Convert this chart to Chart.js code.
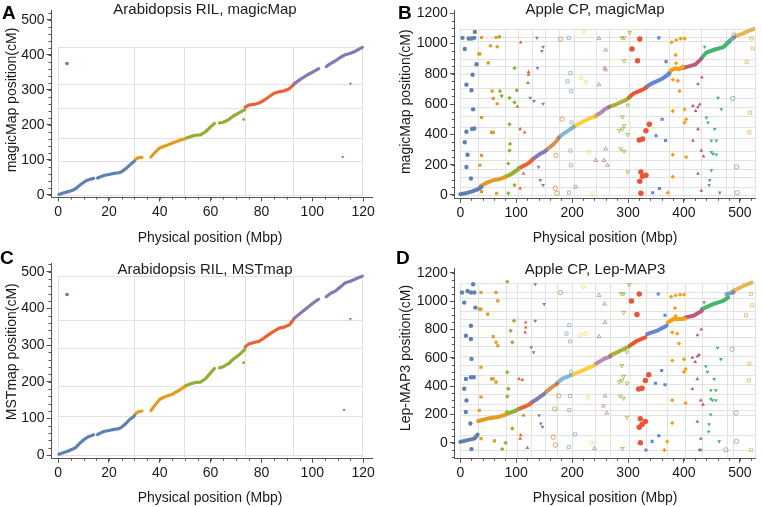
<!DOCTYPE html>
<html><head><meta charset="utf-8">
<script src="https://cdn.jsdelivr.net/npm/chart.js@4.4.1/dist/chart.umd.min.js"></script>
<style>
html,body{margin:0;padding:0;background:#fff;}
#wrap{position:relative;width:762px;height:507px;overflow:hidden;background:#fff;}
canvas{position:absolute;}
</style></head><body>
<div id="wrap">
<canvas id="cA" width="381" height="250" style="left:0;top:0"></canvas>
<canvas id="cB" width="381" height="250" style="left:381px;top:0"></canvas>
<canvas id="cC" width="381" height="257" style="left:0;top:250px"></canvas>
<canvas id="cD" width="381" height="257" style="left:381px;top:250px"></canvas>
</div>
<script>
// ---------- shared style ----------
const COLORS = ['#5E81B5','#E19C24','#8FB032','#EB6235','#8778B3','#C56E1A','#5D9EC7','#FFBF00','#A5609D','#929600','#E95536','#6685D9','#F89F13','#BC5B80','#47B66D','#5E81B5','#E19C24'];
const MARKERS = ['circle','rect','rectRot','triangle','triangleDown','circle','rect','rectRot','triangle','triangleDown','circle','rect','rectRot','triangle','triangleDown','circle','rect'];
const OPEN = [0,0,0,0,0,1,1,1,1,1,0,0,0,0,0,1,1];

// ---------- Panel A: Arabidopsis RIL, magicMap ----------
const A_X_TICKS = [0,20,40,60,80,100,120];
const A_Y_TICKS = [0,100,200,300,400,500];
const A_X_BOUNDS = [0,30.0,49.7,73.5,92.6,119.7];
const A_Y_BOUNDS = [0,96.5,162,246.7,315,420.8];
const A_DIAG = [
  [[[0.3,1],[2,5],[4,9],[6,14],[7,18],[8,24],[9,30],[10,35],[11,40],[12,43],[14,47]],[[15.5,48],[17,52],[18,55],[20,58],[22,61],[24,63],[25,66],[26,71],[27,77],[28,84],[29,90],[30,96]]],
  [[[30.3,100],[31.5,106],[33,107]],[[36.5,108],[38,120],[40,134],[42,139],[45,148],[48,156],[50,160]]],
  [[[50,161],[52,166],[54,170],[56,171],[58,180],[60,194],[61.5,204]],[[63.5,205],[65,207],[67,214],[69,225],[71,233],[73.5,243]]],
  [[[73.6,250],[75,256],[77,258],[79,262],[81,270],[83,280],[85,290],[87,294],[89,297],[91,303],[92.5,313]]],
  [[[92.7,316],[95,328],[98,342],[101,354],[102.5,360]],[[105.5,366],[107,374],[109,382],[111,392],[113,400],[115,404],[117,410],[119.7,421]]]
];
const A_OUT = [[[3.5,375]],[],[[73,215]],[],[[112,108],[115,317]]];

// ---------- Panel C: Arabidopsis RIL, MSTmap ----------
const C_X_TICKS = [0,20,40,60,80,100,120];
const C_Y_TICKS = [0,100,200,300,400,500];
const C_X_BOUNDS = [0,30.0,49.7,73.5,92.6,119.7];
const C_Y_BOUNDS = [0,107,188,291,368,488];
const C_DIAG = [
  [[[0.3,2],[2,6],[4,11],[6,17],[7,21],[8,28],[9,35],[10,41],[11,46],[12,50],[14,55]],[[15.5,56],[17,61],[18,64],[20,67],[22,70],[24,72],[25,76],[26,82],[27,88],[28,96],[29,101],[30,107]]],
  [[[30.3,111],[31.5,118],[33,120]],[[36.5,121],[38,135],[40,152],[42,159],[45,166],[48,178],[50,187]]],
  [[[50,188],[52,194],[54,198],[56,199],[58,208],[60,224],[61.5,236]],[[63.5,238],[65,241],[67,249],[69,262],[71,272],[73.5,288]]],
  [[[73.6,295],[75,303],[77,307],[79,310],[81,319],[83,329],[85,338],[87,346],[89,349],[91,355],[92.5,368]]],
  [[[92.7,372],[95,385],[98,402],[101,418],[102.5,425]],[[105.5,432],[107,440],[109,447],[111,458],[113,470],[115,474],[117,480],[119.7,488]]]
];
const C_OUT = [[[3.5,438]],[],[[73,252]],[],[[112.5,123],[115,371]]];

// ---------- Panel B: Apple CP, magicMap ----------
const B_X_TICKS = [0,100,200,300,400,500];
const B_Y_TICKS = [0,200,400,600,800,1000,1200];
const B_X_BOUNDS = [0,32,80,104,128,152,176,203,242,266,302,332,374,398,431,476,490,527];
const B_Y_BOUNDS = [0,54,118,174,228,293,378,450,518,580,641,706,800,848,898,1015,1043,1098];
const B_DIAG = [
  [[[0,5],[10,12],[20,22],[30,35],[38,52]]],
  [[[36,58],[50,85],[60,98],[70,104],[80,118]]],
  [[[80,120],[90,135],[100,160],[104,172]]],
  [[[104,175],[115,195],[122,210],[128,228]]],
  [[[128,232],[140,265],[150,285],[153,293]]],
  [[[155,300],[165,330],[172,355],[176,375]]],
  [[[176,380],[185,405],[195,430],[203,448]]],
  [[[203,452],[215,475],[230,505],[242,518]]],
  [[[242,522],[252,545],[260,570],[266,580]]],
  [[[266,582],[280,600],[295,625],[302,641]]],
  [[[302,645],[310,670],[320,685],[332,706]]],
  [[[332,712],[345,740],[360,765],[374,800]]],
  [[[372,802],[378,825],[385,835],[392,830],[398,846]]],
  [[[398,838],[410,850],[420,860],[431,898]]],
  [[[431,902],[440,940],[455,960],[470,975],[482,1015]]],
  [[[476,1000],[482,1020],[490,1040]]],
  [[[490,1045],[505,1065],[520,1090],[527,1098]]]
];
const B_OUT = [
  [[4,1037],[8,963],[15,1033],[20,1033],[25,1037],[26,1076],[29,863],[22,793],[11,728],[20,691],[23,565],[21,435],[25,439],[11,417],[8,348],[13,265],[11,185],[19,109]],
  [[38,1039],[54,985],[64,1039],[66,978],[33,931],[35,931],[50,872],[57,685],[59,637],[66,602],[38,511],[56,413],[59,413],[38,261],[35,196],[65,11],[38,22]],
  [[70,1044],[71,685],[74,654],[88,641],[97,837],[101,691],[97,611],[88,467],[89,337],[88,293],[86,207],[97,65],[86,11]],
  [[108,1006],[122,811],[122,794],[121,739],[102,582],[107,435],[115,413],[113,141],[107,43]],
  [[137,1037],[148,978],[146,950],[138,837],[125,641],[132,620],[148,602],[140,185],[143,98],[148,65]],
  [[179,1028],[182,500],[171,261],[173,11],[170,43]],
  [[197,804],[192,750],[198,685],[199,478],[197,293],[198,196],[194,15],[206,54],[194,1037]],
  [[221,1076],[216,772],[225,743],[230,283],[236,11]],
  [[248,1033],[260,957],[260,826],[248,728],[257,228],[260,304],[263,196],[242,228],[258,837]],
  [[289,1037],[293,1037],[303,1072],[293,885],[299,593],[290,515],[284,424],[290,435],[293,457],[299,398],[287,304],[293,289],[299,152]],
  [[307,963],[317,885],[326,370],[320,363],[332,424],[338,467],[323,152],[326,124],[332,130],[321,91],[323,11],[321,1029]],
  [[355,1037],[368,880],[361,500],[367,359],[350,391],[356,43],[344,15]],
  [[378,1007],[386,1022],[394,1033],[401,1033],[385,924],[386,870],[380,761],[389,754],[392,685],[380,554],[401,565],[404,500],[401,478],[380,265],[404,250],[380,120],[371,15]],
  [[416,587],[421,554],[425,580],[428,598],[425,435],[416,359],[431,293],[435,254],[425,141],[431,28],[432,776],[425,733]],
  [[437,978],[461,641],[467,565],[440,511],[443,478],[449,359],[458,359],[455,435],[449,283],[452,272],[458,267],[449,163],[446,98],[445,65],[464,15]],
  [[487,637],[494,185],[495,15],[489,1054]],
  [[521,1033],[523,967],[512,876],[518,543],[517,413]]
];

// ---------- Panel D: Apple CP, Lep-MAP3 ----------
const D_X_TICKS = [0,100,200,300,400,500];
const D_Y_TICKS = [0,200,400,600,800,1000,1200];
const D_X_BOUNDS = [0,32,81,102,126,152,173,199,241,268,302,332,370,402,432,477,488,527];
const D_Y_BOUNDS = [-50,58,199,234,276,346,416,478,550,610,680,744,826,876,931,1025,1062,1130];
const D_DIAG = [
  [[[0,7],[13,19],[25,30],[31,58]]],
  [[[32,154],[49,171],[67,182],[81,199]]],
  [[[84,206],[96,222],[102,234]]],
  [[[103,236],[114,253],[126,276]]],
  [[[126,281],[138,311],[150,346]]],
  [[[153,358],[164,393],[173,416]]],
  [[[173,421],[182,451],[197,475]]],
  [[[200,480],[221,515],[239,545]]],
  [[[242,557],[257,592],[268,608]]],
  [[[268,615],[286,650],[301,678]]],
  [[[303,685],[316,720],[331,744]]],
  [[[334,767],[352,791],[369,826]]],
  [[[371,849],[381,873],[393,873],[402,876]]],
  [[[402,884],[417,896],[432,931]]],
  [[[432,943],[452,978],[470,1001],[479,1025]]],
  [[[476,1048],[488,1060]]],
  [[[488,1071],[506,1106],[521,1130]]]
];
const D_OUT = [
  [[3,1060],[7,989],[13,1071],[19,1060],[25,1060],[23,1118],[27,954],[19,826],[10,756],[19,732],[20,592],[19,463],[24,463],[10,451],[7,381],[11,299],[10,218],[18,136],[20,-44]],
  [[37,1060],[34,943],[37,943],[49,908],[64,1060],[67,1001],[59,749],[64,709],[67,685],[37,533],[37,323],[34,229],[37,30],[61,14],[56,451],[59,451],[64,428]],
  [[84,1137],[96,861],[90,791],[93,709],[84,498],[86,381],[84,327],[83,218],[93,101],[81,0],[75,-44]],
  [[105,451],[111,444],[117,849],[117,814],[116,779],[108,54],[107,30],[120,-35],[113,194]],
  [[134,1118],[150,978],[134,861],[127,674],[131,639],[141,194],[144,136],[147,112]],
  [[179,1060],[170,-16],[176,332],[169,240],[166,40]],
  [[195,830],[190,770],[196,715],[198,500],[196,330],[195,230],[194,-30],[205,60]],
  [[220,1100],[215,760],[224,770],[229,320],[235,0]],
  [[248,1040],[258,980],[259,850],[248,750],[256,260],[259,330],[262,210],[240,-40]],
  [[288,1050],[292,1050],[302,1115],[292,920],[298,640],[289,545],[284,430],[289,440],[292,470],[298,420],[286,330],[292,315],[298,180],[290,-40]],
  [[306,1000],[316,905],[325,385],[319,380],[331,440],[337,480],[322,170],[325,130],[331,150],[320,110],[322,0],[320,1050]],
  [[354,1050],[366,900],[360,510],[366,410],[349,420],[355,50],[343,10],[332,-50]],
  [[377,1030],[385,1040],[393,1045],[400,1045],[384,950],[385,895],[379,780],[388,770],[391,700],[379,580],[400,590],[403,520],[400,500],[379,300],[403,280],[379,140],[370,10],[365,-50]],
  [[415,600],[420,570],[424,610],[427,620],[424,450],[415,380],[430,300],[434,270],[424,150],[430,30],[431,800],[424,760],[428,-50]],
  [[436,990],[460,670],[466,590],[439,540],[442,500],[448,370],[457,370],[454,450],[448,310],[451,300],[457,300],[448,200],[445,130],[444,80],[463,10],[430,-50]],
  [[486,660],[493,210],[494,10],[488,1065],[475,-50]],
  [[520,1050],[522,970],[511,900],[517,560],[516,440],[520,-50]]
];

// ---------- plugins ----------
const framePlugin = {
  id:'frame',
  beforeDatasetsDraw(chart, args, o){
    const {ctx, scales:{x,y}, chartArea:a} = chart;
    ctx.save();
    ctx.strokeStyle = o.color; ctx.lineWidth = 1;
    const yTop = y.getPixelForValue(o.yb[o.yb.length-1]);
    const xL = x.getPixelForValue(o.xb[0]);
    const xR = x.getPixelForValue(o.xb[o.xb.length-1]);
    o.xb.forEach(v=>{const p=Math.round(x.getPixelForValue(v))+0.5; ctx.beginPath(); ctx.moveTo(p,a.bottom); ctx.lineTo(p,yTop); ctx.stroke();});
    o.yb.forEach(v=>{const p=Math.round(y.getPixelForValue(v))+0.5; ctx.beginPath(); ctx.moveTo(xL,p); ctx.lineTo(xR,p); ctx.stroke();});
    ctx.restore();
  }
};
const minorPlugin = {
  id:'minor',
  afterDraw(chart, args, o){
    const {ctx, scales:{x,y}, chartArea:a} = chart;
    ctx.save(); ctx.strokeStyle = o.color; ctx.lineWidth = 1;
    for(let v=Math.ceil(x.min/o.xs)*o.xs; v<=x.max; v+=o.xs){const p=Math.round(x.getPixelForValue(v))+0.5; ctx.beginPath(); ctx.moveTo(p,a.bottom); ctx.lineTo(p,a.bottom+2.5); ctx.stroke();}
    for(let v=Math.ceil(y.min/o.ys)*o.ys; v<=y.max; v+=o.ys){const p=Math.round(y.getPixelForValue(v))+0.5; ctx.beginPath(); ctx.moveTo(a.left,p); ctx.lineTo(a.left-2.5,p); ctx.stroke();}
    ctx.restore();
  }
};
const textPlugin = {
  id:'texts',
  afterDraw(chart, args, o){
    const ctx = chart.ctx;
    o.items.forEach(t=>{
      ctx.save(); ctx.fillStyle = t.color||'#1a1a1a';
      ctx.font = t.font; ctx.textAlign = t.align||'center'; ctx.textBaseline='middle';
      ctx.translate(t.x,t.y); if(t.rot) ctx.rotate(t.rot);
      ctx.fillText(t.text,0,0); ctx.restore();
    });
  }
};

const FF = "'Liberation Sans', Arial, Helvetica, sans-serif";
function hexA(h,a){const n=parseInt(h.slice(1),16);return `rgba(${n>>16&255},${n>>8&255},${n&255},${a})`;}

function build(id, P){
  const cv = document.getElementById(id);
  const W = cv.width, H = cv.height;
  const datasets = [];
  P.diag.forEach((segs,ci)=>{
    segs.forEach(seg=>datasets.push({
      data: seg.map(p=>({x:p[0],y:p[1]})), showLine:true, pointRadius:0,
      borderColor: OPEN[ci]? hexA(COLORS[ci],0.75) : COLORS[ci], borderWidth:P.lw, borderCapStyle:'round', borderJoinStyle:'round', tension:0
    }));
  });
  P.out.forEach((pts,ci)=>{
    if(!pts.length) return;
    const open = OPEN[ci];
    datasets.push({
      data: pts.map(p=>({x:p[0],y:p[1]})), showLine:false,
      pointStyle: MARKERS[ci]==='triangleDown'?'triangle':MARKERS[ci],
      rotation: MARKERS[ci]==='triangleDown'?180:0,
      pointRadius: P.pr * (ci===10?1.25:1),
      backgroundColor: open? 'rgba(255,255,255,0)' : COLORS[ci],
      borderColor: open? hexA(COLORS[ci],0.6) : COLORS[ci],
      borderWidth: open? 1 : 0
    });
  });
  const tickFont = {family:FF, size:14};
  new Chart(cv, {
    type:'scatter',
    data:{datasets},
    options:{
      responsive:false, animation:false, events:[],
      layout:{padding:{left:0, top:P.area.top, right:W-P.area.right, bottom:0}},
      plugins:{legend:{display:false}, tooltip:{enabled:false},
        frame:{xb:P.xb, yb:P.yb, color:'#e2e2e2'},
        minor:{xs:P.xs, ys:P.ys, color:'#555'},
        texts:{items:P.texts}},
      scales:{
        x:{type:'linear', min:P.xr[0], max:P.xr[1],
          afterBuildTicks:s=>{s.ticks=P.xt.map(v=>({value:v}));},
          afterFit:s=>{s.height=H-P.area.bottom;},
          ticks:{font:tickFont, color:'#1a1a1a', padding:2, maxRotation:0, autoSkip:false, callback:v=>String(v)},
          grid:{drawOnChartArea:false, tickLength:4.5, color:'#555'},
          border:{color:'#555', width:1}},
        y:{type:'linear', min:P.yr[0], max:P.yr[1],
          afterBuildTicks:s=>{s.ticks=P.yt.map(v=>({value:v}));},
          afterFit:s=>{s.width=P.area.left;},
          ticks:{font:tickFont, color:'#1a1a1a', padding:2, autoSkip:false, callback:v=>String(v)},
          grid:{drawOnChartArea:false, tickLength:4.5, color:'#555'},
          border:{color:'#555', width:1}}
      }
    },
    plugins:[framePlugin, minorPlugin, textPlugin]
  });
}

const TF = `15px ${FF}`, LF = `14px ${FF}`, BF = `bold 19px ${FF}`;
build('cA', {diag:A_DIAG, out:A_OUT, xb:A_X_BOUNDS, yb:A_Y_BOUNDS, xt:A_X_TICKS, yt:A_Y_TICKS,
  xr:[-2.8,123.5], yr:[-6.3,526.5], area:{left:51,right:372,top:2,bottom:197}, xs:5, ys:20, lw:3.2, pr:1.8,
  texts:[{text:'Arabidopsis RIL, magicMap',x:205,y:10,font:TF},
         {text:'magicMap position(cM)',x:12,y:100,font:LF,rot:-Math.PI/2},
         {text:'Physical position (Mbp)',x:210,y:238,font:LF},
         {text:'A',x:2,y:14,font:BF,align:'left',color:'#000'}]});
build('cC', {diag:C_DIAG, out:C_OUT, xb:C_X_BOUNDS, yb:C_Y_BOUNDS, xt:C_X_TICKS, yt:C_Y_TICKS,
  xr:[-2.8,123.5], yr:[-9,523], area:{left:51,right:372,top:13.3,bottom:208.3}, xs:5, ys:20, lw:3.2, pr:1.8,
  texts:[{text:'Arabidopsis RIL, MSTmap',x:205,y:20,font:TF},
         {text:'MSTmap position(cM)',x:12,y:101.7,font:LF,rot:-Math.PI/2},
         {text:'Physical position (Mbp)',x:210,y:248,font:LF},
         {text:'C',x:0,y:9,font:BF,align:'left',color:'#000'}]});
build('cB', {diag:B_DIAG, out:B_OUT, xb:B_X_BOUNDS, yb:B_Y_BOUNDS, xt:B_X_TICKS, yt:B_Y_TICKS,
  xr:[-10.7,527], yr:[-22,1218], area:{left:73.3,right:374,top:8.3,bottom:198.3}, xs:20, ys:50, lw:4, pr:2.2,
  texts:[{text:'Apple CP, magicMap',x:214,y:10,font:TF},
         {text:'magicMap position(cM)',x:25,y:101.7,font:LF,rot:-Math.PI/2},
         {text:'Physical position (Mbp)',x:224,y:238,font:LF},
         {text:'B',x:17,y:14,font:BF,align:'left',color:'#000'}]});
build('cD', {diag:D_DIAG, out:D_OUT, xb:D_X_BOUNDS, yb:D_Y_BOUNDS, xt:D_X_TICKS, yt:D_Y_TICKS,
  xr:[-10.7,527], yr:[-109,1231], area:{left:73.3,right:374,top:18.3,bottom:208.3}, xs:20, ys:50, lw:4, pr:2.2,
  texts:[{text:'Apple CP, Lep-MAP3',x:214,y:20,font:TF},
         {text:'Lep-MAP3 position(cM)',x:25,y:108,font:LF,rot:-Math.PI/2},
         {text:'Physical position (Mbp)',x:224,y:248,font:LF},
         {text:'D',x:15,y:9,font:BF,align:'left',color:'#000'}]});
</script>
</body></html>
